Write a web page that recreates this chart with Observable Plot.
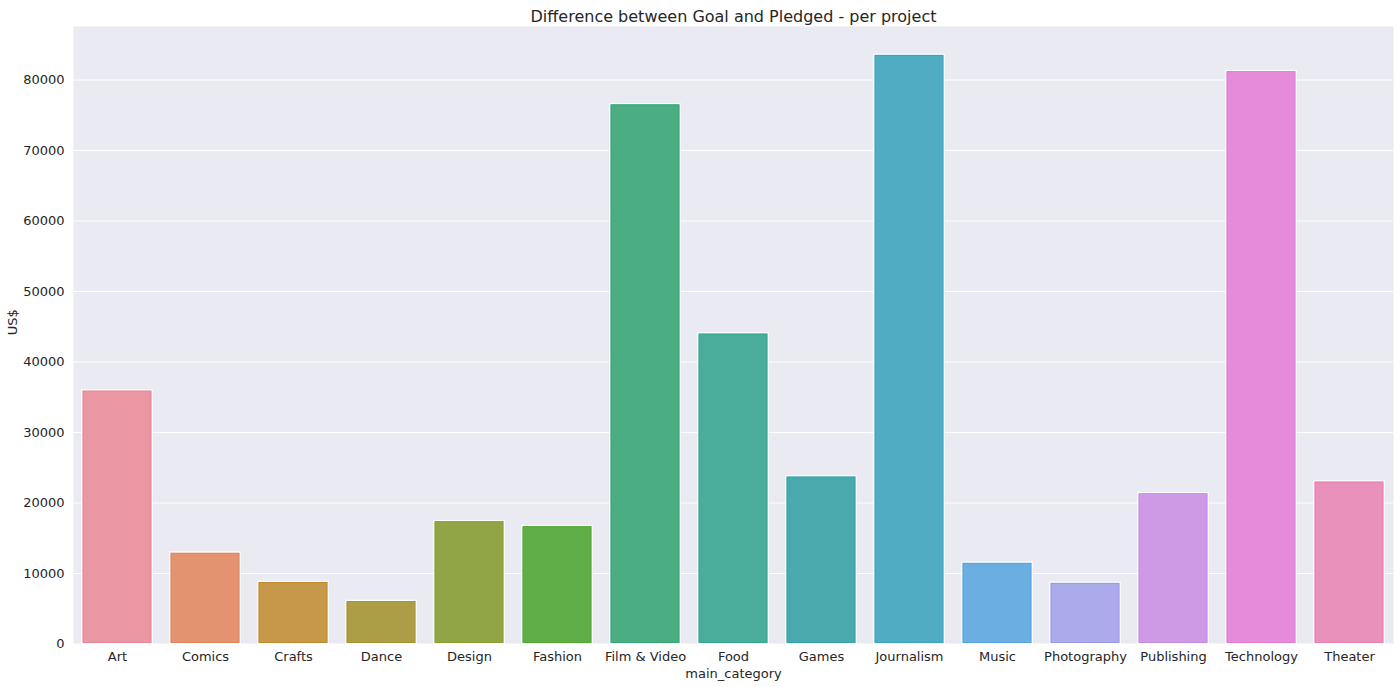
<!DOCTYPE html>
<html>
<head>
<meta charset="utf-8">
<script src="https://cdn.jsdelivr.net/npm/d3@7"></script>
<script src="https://cdn.jsdelivr.net/npm/@observablehq/plot@0.6"></script>
<style>
  html, body { margin: 0; padding: 0; background: #fff; }
  #chart svg { display: block; }
</style>
</head>
<body>
<div id="chart"></div>
<script>
const categories = ["Art", "Comics", "Crafts", "Dance", "Design", "Fashion", "Film & Video", "Food", "Games", "Journalism", "Music", "Photography", "Publishing", "Technology", "Theater"];
const values = [35950, 12950, 8800, 6100, 17420, 16710, 76550, 44040, 23760, 83570, 11520, 8680, 21390, 81250, 23050];
const colors = ["#ea96a3", "#e39370", "#c7974a", "#ab9e47", "#91a547", "#60ae47", "#4aae82", "#4aac9b", "#4aa9ad", "#4facc3", "#6aaee2", "#abaaea", "#ce9ae6", "#e68bd9", "#e990bb"];
const edgeColors = ["#e8879a", "#e08557", "#bf8a2c", "#a4962e", "#87a02e", "#4ea92e", "#32a873", "#33a690", "#32a2a8", "#3aa4bf", "#54a3df", "#9a98e8", "#c78ae4", "#e27ad4", "#e67fb1"];
const yTicks = [0, 10000, 20000, 30000, 40000, 50000, 60000, 70000, 80000];
const titleText = "Difference between Goal and Pledged - per project";
const xLabel = "main_category";
const yLabel = "US$";

const data = categories.map((c, i) => ({category: c, value: values[i]}));
const font = "DejaVu Sans, sans-serif";

const chart = Plot.plot({
  width: 1400,
  height: 687,
  marginLeft: 73,
  marginRight: 7,
  marginTop: 26,
  marginBottom: 43.5,
  style: {fontFamily: font, fontSize: "13px", color: "#262626", background: "#fff"},
  x: {domain: categories, paddingInner: 0.2, paddingOuter: 0.1, label: null},
  y: {domain: [0, 87590], label: null},
  color: {domain: categories, range: colors},
  marks: [
    Plot.frame({fill: "#eaeaf2", stroke: null}),
    Plot.gridY(yTicks, {stroke: "#ffffff", strokeOpacity: 1, strokeWidth: 1}),
    Plot.barY(data, {x: "category", y: "value", fill: "category", stroke: "#ffffff", strokeWidth: 1.5}),
    Plot.barY(data, {x: "category", y: "value", fill: "category", stroke: (d, i) => edgeColors[i], strokeWidth: 1, inset: 1}),
    Plot.axisY(yTicks, {tickSize: 0, tickPadding: 9, tickFormat: d => String(d), fontSize: 13, fill: "#262626", label: null}),
    Plot.axisX({tickSize: 0, tickPadding: 8, fontSize: 13, fill: "#262626", label: null}),
    Plot.text([titleText], {frameAnchor: "top", dy: -16, fontSize: 16, fill: "#262626"}),
    Plot.text([yLabel], {frameAnchor: "left", dx: -61, rotate: -90, fontSize: 13, fill: "#262626"}),
    Plot.text([xLabel], {frameAnchor: "bottom", dy: 34, fontSize: 13, fill: "#262626"})
  ]
});
document.getElementById("chart").appendChild(chart);
</script>
</body>
</html>
